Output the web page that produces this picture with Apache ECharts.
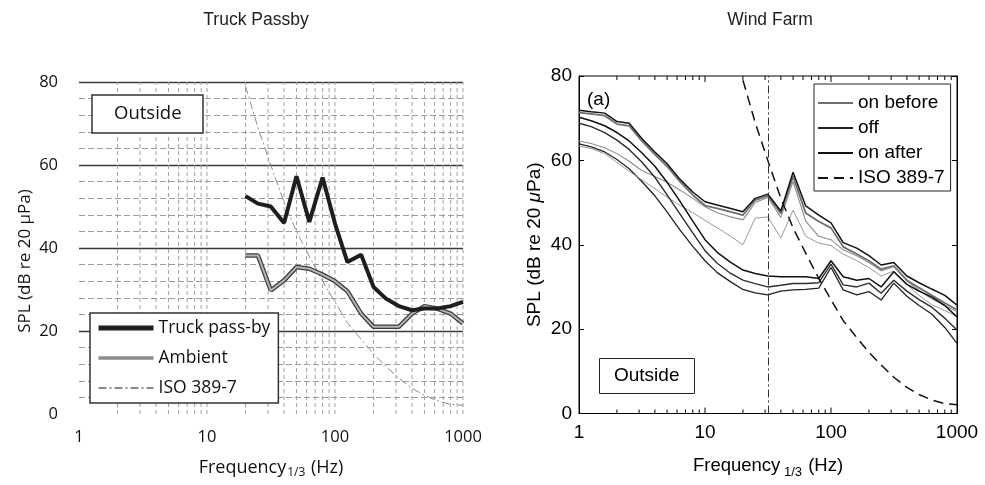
<!DOCTYPE html>
<html><head><meta charset="utf-8">
<script src="https://cdn.jsdelivr.net/npm/echarts@6/dist/echarts.min.js"></script>
<style>html,body{margin:0;padding:0;background:#fff}#c{width:985px;height:485px}</style>
</head><body><div id="c"></div>
<script>
// ---------- Data: Truck Passby (1/3-octave bands) ----------
const truckBands = [20,25,31.5,40,50,63,80,100,125,160,200,250,315,400,500,630,800,1000];
const truckPassBy = [52.5,50.7,50.0,46.0,57.3,46.3,57.0,45.9,36.6,38.4,30.6,27.8,26.0,25.0,25.4,25.4,26.0,27.0];
const ambient     = [38.2,38.2,29.8,32.2,35.4,35.0,33.6,32.0,29.6,24.2,21.0,21.0,21.0,24.2,26.0,25.4,24.2,21.8];
const iso3897     = [79.0,69.0,60.0,51.0,44.0,38.0,32.0,27.0,22.0,18.0,14.5,11.5,8.6,6.2,4.5,3.2,2.3,2.1];

// ---------- Data: Wind Farm (1/3-octave bands) ----------
const windBands = [1,1.25,1.6,2,2.5,3.15,4,5,6.3,8,10,12.5,16,20,25,31.5,40,50,63,80,100,125,160,200,250,315,400,500,630,800,1000];
const onAfterUpper  = [71.9,71.5,71.2,69.2,68.8,65.2,62.0,59.2,55.6,52.5,50.2,49.4,48.6,47.8,51.0,52.0,48.0,57.2,49.2,47.0,45.2,40.5,39.2,37.4,35.2,35.8,32.6,31.0,29.5,28.0,25.7];
const onBeforeUpper = [71.3,71.0,70.6,68.6,68.2,64.6,61.4,58.6,55.0,51.8,49.3,48.6,47.8,47.0,50.6,51.6,47.4,56.2,47.5,45.5,44.0,39.5,37.8,36.2,34.2,35.0,31.6,29.8,28.0,26.2,24.6];
const onBeforeMid   = [64.6,64.0,63.0,61.6,59.8,57.6,56.2,54.8,53.0,51.0,49.0,47.6,46.6,45.9,50.0,51.2,46.5,55.0,45.6,42.0,41.2,38.8,37.4,35.8,33.8,34.8,31.4,29.2,27.2,25.6,24.2];
const offUpper      = [63.4,62.8,61.6,59.5,57.4,55.4,53.3,51.3,49.4,47.6,45.8,44.0,42.0,40.0,46.3,46.6,41.6,48.2,42.0,40.4,39.8,37.8,36.2,34.6,32.6,33.8,30.6,28.0,25.8,24.4,23.0];
const onAfterLower  = [70.2,69.4,68.2,66.6,64.6,61.8,58.6,54.8,50.4,45.6,41.2,38.2,35.8,34.0,33.2,32.6,32.4,32.4,32.4,32.0,36.2,32.4,31.6,32.0,30.0,33.6,30.6,29.0,27.6,25.6,22.9];
const onBeforeLower = [68.8,68.0,66.6,64.8,62.6,59.6,56.0,51.8,47.4,42.8,38.6,35.6,33.2,31.6,30.8,30.0,30.4,30.8,30.8,31.0,35.4,30.5,30.0,30.9,28.5,31.6,29.0,27.0,25.2,22.6,19.8];
const offLower      = [63.9,63.2,62.0,60.2,58.0,55.0,51.6,47.8,43.6,39.6,36.2,33.4,31.2,29.4,28.6,28.1,29.0,29.3,29.4,29.7,34.6,29.3,28.1,28.9,26.9,30.9,27.8,25.6,23.6,20.4,16.6];

// ---------- Axis ticks ----------
const xTickLabels = [1,10,100,1000];
const yTickValues = [0,20,40,60,80];
const markedBand = 31.5;

// ---------- helpers ----------
const pts = (xs, ys) => xs.map((x, i) => [x, ys[i]]);
const logMinor = [];
for (const d of [1,10,100]) for (let k = 1; k <= 9; k++) logMinor.push(k * d);
logMinor.push(1000);

const F1 = "'Open Sans','Noto Sans',sans-serif";
const F2 = "'Liberation Sans',Arial,sans-serif";
const yMin = yTickValues[0], yMax = yTickValues[yTickValues.length - 1];
const yStep = yTickValues[1] - yTickValues[0];
const xMin = xTickLabels[0], xMax = xTickLabels[xTickLabels.length - 1];

function vGrid(params, api) {
  const f = api.value(0);
  const a = api.coord([f, yMin]), b = api.coord([f, yMax]);
  return {type: 'line', silent: true,
    shape: {x1: a[0], y1: a[1], x2: b[0], y2: b[1]},
    style: {stroke: '#a0a0a0', lineWidth: 1, lineDash: [4, 3]}};
}
function xTicks(params, api) {
  const f = api.value(0), major = api.value(2);
  const a = api.coord([f, yMin]), b = api.coord([f, yMax]);
  const L = major ? 6 : 4;
  return {type: 'group', silent: true, children: [
    {type: 'line', shape: {x1: a[0], y1: a[1], x2: a[0], y2: a[1] - L}, style: {stroke: '#000', lineWidth: 1}},
    {type: 'line', shape: {x1: b[0], y1: b[1], x2: b[0], y2: b[1] + L}, style: {stroke: '#000', lineWidth: 1}}
  ]};
}
const lineS = (name, xi, xs, ys, color, width, type, extra) => Object.assign({
  name, type: 'line', xAxisIndex: xi, yAxisIndex: xi === 0 ? 0 : 1,
  data: pts(xs, ys), symbol: 'none', smooth: false, silent: true,
  lineStyle: {color, width, type: type || 'solid'}, itemStyle: {color}
}, extra || {});

const chart = echarts.init(document.getElementById('c'), null, {renderer: 'canvas'});
const option = {
  animation: false,
  backgroundColor: '#ffffff',
  grid: [
    {left: 79, top: 82, width: 384, height: 332, outerBoundsMode: 'none'},
    {left: 579, top: 76, width: 378, height: 337.5, show: true, borderColor: '#000', borderWidth: 1, outerBoundsMode: 'none'}
  ],
  xAxis: [
    {gridIndex: 0, type: 'log', logBase: 10, min: xMin, max: xMax,
     axisLine: {show: false}, axisTick: {show: false}, splitLine: {show: false},
     axisLabel: {fontFamily: F1, fontSize: 16.5, color: '#111', margin: 15, formatter: v => String(Math.round(v))},
     name: 'Frequency{s|1/3} (Hz)', nameLocation: 'middle', nameGap: 42, nameMoveOverlap: false,
     nameTextStyle: {fontFamily: F1, fontSize: 18, color: '#111',
       rich: {s: {fontFamily: F1, fontSize: 12, color: '#111', padding: [11, 1, 0, 1]}}}},
    {gridIndex: 1, type: 'log', logBase: 10, min: xMin, max: xMax,
     axisLine: {show: true, lineStyle: {color: '#000', width: 1}}, axisTick: {show: false}, splitLine: {show: false},
     axisLabel: {fontFamily: F2, fontSize: 19, color: '#000', margin: 10, formatter: v => String(Math.round(v))},
     name: 'Frequency{s| 1/3} (Hz)', nameLocation: 'middle', nameGap: 40, nameMoveOverlap: false,
     nameTextStyle: {fontFamily: F2, fontSize: 18.5, color: '#000',
       rich: {s: {fontFamily: F2, fontSize: 13, color: '#000', padding: [12, 1, 0, 0]}}}}
  ],
  yAxis: [
    {gridIndex: 0, type: 'value', min: yMin, max: yMax, interval: yStep,
     axisLine: {show: false}, axisTick: {show: false},
     axisLabel: {fontFamily: F1, fontSize: 16.5, color: '#111', margin: 21},
     splitLine: {show: true, showMinLine: false, lineStyle: {color: '#3a3a3a', width: 1.3}},
     minorTick: {show: false, splitNumber: 5},
     minorSplitLine: {show: true, lineStyle: {color: '#9c9c9c', width: 1, type: [6, 3]}},
     name: 'SPL (dB re 20 μPa)', nameLocation: 'middle', nameGap: 45, nameRotate: 90, nameMoveOverlap: false,
     nameTextStyle: {fontFamily: F1, fontSize: 17, color: '#111', padding: [0, 26, 0, 0]}},
    {gridIndex: 1, type: 'value', min: yMin, max: yMax, interval: yStep,
     axisLine: {show: true, lineStyle: {color: '#000'}}, axisTick: {show: true, inside: true, length: 5, lineStyle: {color: '#000'}},
     axisLabel: {fontFamily: F2, fontSize: 19, color: '#000', margin: 7},
     splitLine: {show: false},
     name: 'SPL (dB re 20 {i|μ}Pa)', nameLocation: 'middle', nameGap: 35, nameRotate: 90, nameMoveOverlap: false,
     nameTextStyle: {fontFamily: F2, fontSize: 19, color: '#000',
       rich: {i: {fontFamily: F2, fontSize: 19, fontStyle: 'italic', color: '#000'}}}},
    {gridIndex: 1, type: 'value', position: 'right', min: yMin, max: yMax, interval: yStep,
     axisLine: {show: true, lineStyle: {color: '#000'}}, axisTick: {show: true, inside: true, length: 5, lineStyle: {color: '#000'}},
     axisLabel: {show: false}, splitLine: {show: false}}
  ],
  legend: [
    {left: 90, top: 313, orient: 'vertical', selectedMode: false,
     data: [
       {name: 'Truck pass-by', lineStyle: {width: 5, color: '#1e1e1e'}},
       {name: 'Ambient', lineStyle: {width: 3.5, color: '#8c8c8c'}},
       {name: 'ISO 389-7'}
     ],
     itemWidth: 55, itemHeight: 14, itemGap: 8, padding: [4, 8, 4, 6],
     itemStyle: {opacity: 0, borderWidth: 0},
     backgroundColor: '#fff', borderColor: '#333', borderWidth: 1.5,
     textStyle: {fontFamily: F1, fontSize: 17.5, color: '#111', lineHeight: 22}},
    {left: 814, top: 84, orient: 'vertical', selectedMode: false,
     data: ['on before', 'off', 'on after', 'ISO 389-7 (wind)'],
     formatter: n => n.indexOf('ISO') === 0 ? 'ISO 389-7' : n,
     itemWidth: 35, itemHeight: 14, itemGap: 5, padding: [9, 6, 3, 3],
     itemStyle: {opacity: 0, borderWidth: 0},
     backgroundColor: '#fff', borderColor: '#222', borderWidth: 1,
     textStyle: {fontFamily: F2, fontSize: 19, color: '#000', lineHeight: 20}}
  ],
  title: [
    {text: 'Outside', left: 92, top: 95, padding: [8, 22, 8, 22], borderColor: '#333', borderWidth: 1.5,
     backgroundColor: '#fff', textStyle: {fontFamily: F1, fontSize: 18.5, fontWeight: 'normal', color: '#111', lineHeight: 22}},
    {text: 'Outside', left: 599, top: 358, padding: [8, 15, 8, 15], borderColor: '#222', borderWidth: 1,
     backgroundColor: '#fff', textStyle: {fontFamily: F2, fontSize: 19, fontWeight: 'normal', color: '#000', lineHeight: 20}}
  ],
  graphic: [
    {type: 'text', x: 256, y: 20, style: {text: 'Truck Passby', font: "17.5px 'Liberation Sans'", fill: '#222', align: 'center', verticalAlign: 'middle', textAlign: 'center', textVerticalAlign: 'middle'}},
    {type: 'text', x: 770, y: 20, style: {text: 'Wind Farm', font: "17.5px 'Liberation Sans'", fill: '#222', align: 'center', verticalAlign: 'middle', textAlign: 'center', textVerticalAlign: 'middle'}},
    {type: 'text', x: 587, y: 100, style: {text: '(a)', font: "19px 'Liberation Sans'", fill: '#000', align: 'left', verticalAlign: 'middle', textAlign: 'left', textVerticalAlign: 'middle'}}
  ],
  series: [
    {type: 'custom', xAxisIndex: 0, yAxisIndex: 0, silent: true, clip: false, renderItem: vGrid,
     encode: {x: 0, y: 1}, data: logMinor.filter(f => f > xMin).map(f => [f, yMin])},
    lineS('ISO 389-7', 0, truckBands, iso3897, '#8a8a8a', 1, [8, 3, 2, 3]),
    lineS('Ambient-outline', 0, truckBands, ambient, '#3c3c3c', 4.5),
    lineS('Ambient', 0, truckBands, ambient, '#b4b4b4', 2),
    lineS('Truck pass-by', 0, truckBands, truckPassBy, '#1e1e1e', 4),

    {type: 'custom', xAxisIndex: 1, yAxisIndex: 1, silent: true, clip: false, renderItem: xTicks,
     encode: {x: 0, y: 1}, data: logMinor.filter(f => f > xMin && f < xMax).map(f => [f, yMin, xTickLabels.indexOf(f) >= 0 ? 1 : 0])},
    lineS('on before', 1, windBands, onBeforeUpper, '#6e6e6e', 1.8),
    lineS('off', 1, windBands, offLower, '#222', 1.3),
    lineS('on after', 1, windBands, onAfterUpper, '#111', 1.5),
    lineS('on before', 1, windBands, onBeforeMid, '#8c8c8c', 1.1),
    lineS('off', 1, windBands, offUpper, '#9a9a9a', 1.0),
    lineS('on before', 1, windBands, onBeforeLower, '#2e2e2e', 1.4),
    lineS('on after', 1, windBands, onAfterLower, '#111', 1.5),
    lineS('ISO 389-7 (wind)', 1, truckBands, iso3897, '#111', 1.5, [10, 6], {
      markLine: {silent: true, symbol: ['none', 'none'], label: {show: false},
        lineStyle: {color: '#333', width: 1, type: [8, 3, 2, 3]},
        data: [{xAxis: markedBand}]}})
  ]
};
chart.setOption(option);
</script>
</body></html>
